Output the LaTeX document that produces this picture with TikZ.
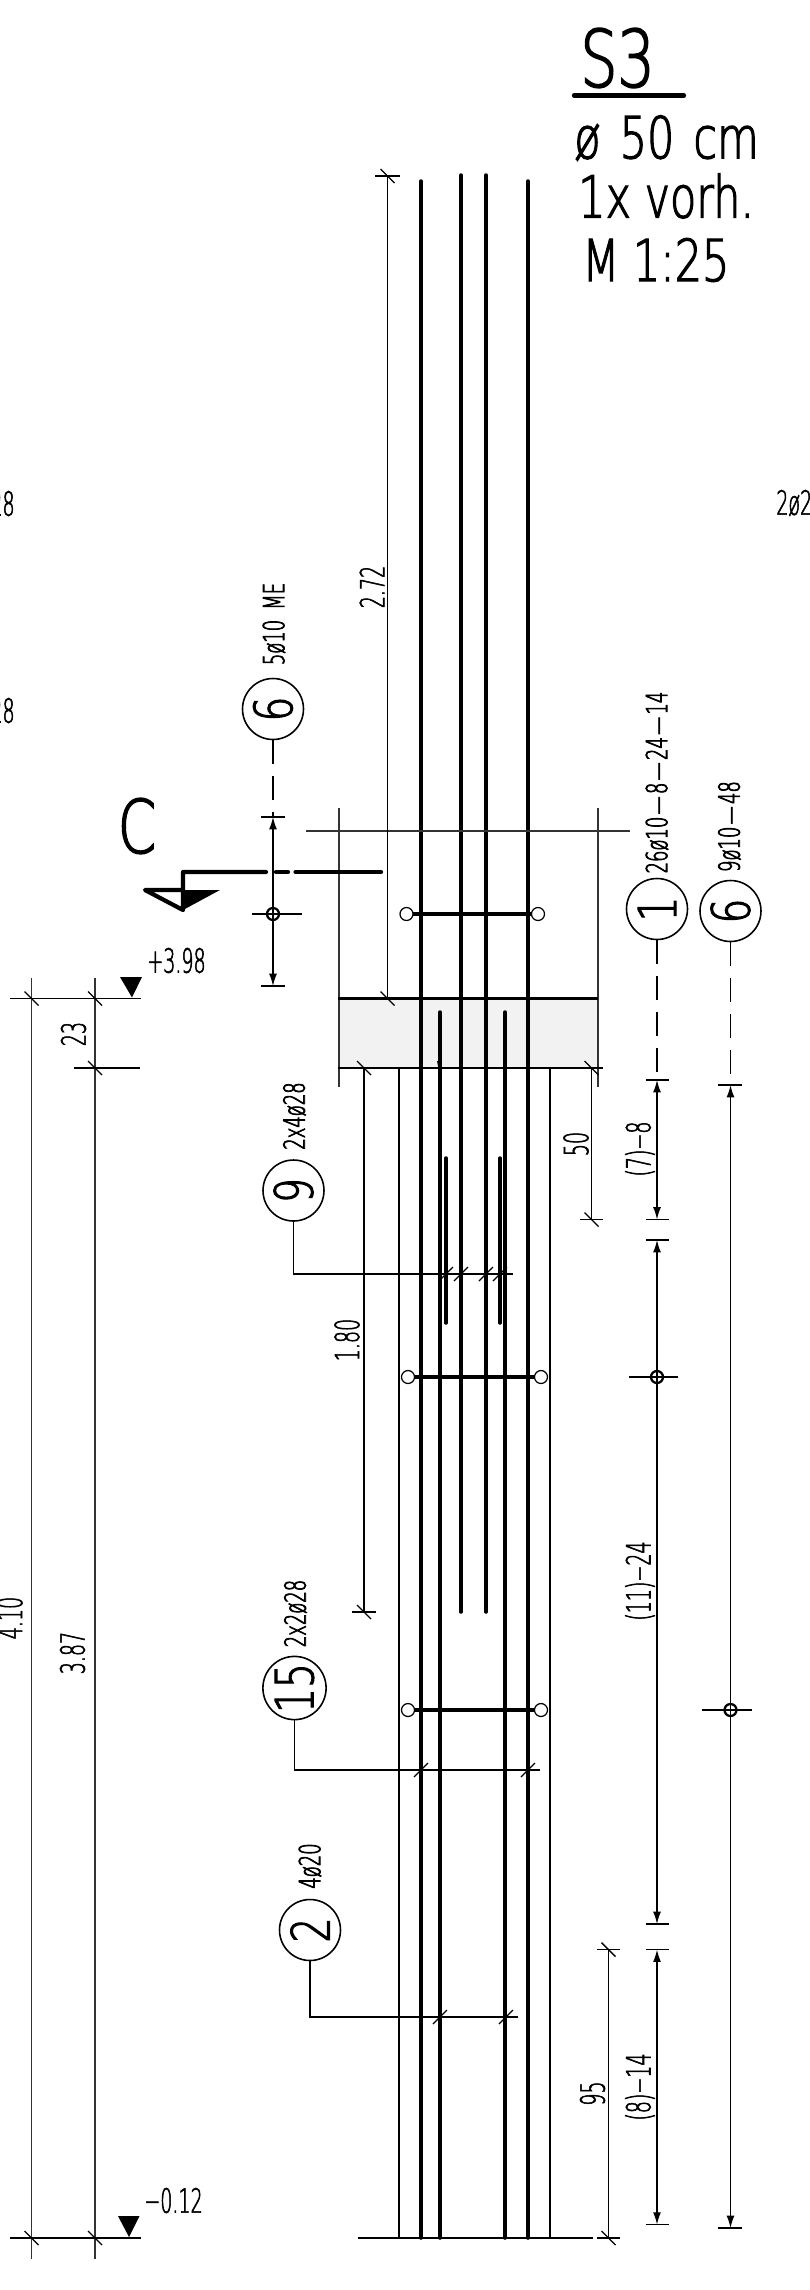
\documentclass[tikz,border=0pt]{standalone}
\usepackage{fontspec}
\newfontfamily\titlefont[FakeStretch=0.74,FakeBold=2]{DejaVu Sans ExtraLight}
\newfontfamily\dimfont[FakeStretch=0.57,FakeBold=1.6]{DejaVu Sans ExtraLight}
\newfontfamily\barfont[FakeStretch=0.62,FakeBold=2.4]{DejaVu Sans ExtraLight}
\usetikzlibrary{arrows.meta}
\tikzset{
  dimline/.style={line width=0.75pt},
  extline/.style={line width=0.6pt,black!80},
  barthick/.style={line width=2pt,line cap=round},
  barouter/.style={line width=1.4pt},
  leader/.style={line width=0.8pt},
  tickmark/.style={line width=0.75pt},
  dimarrow/.style={line width=0.75pt,{Latex[length=7pt,width=4.5pt]}-{Latex[length=7pt,width=4.5pt]}},
  dimtext/.style={inner sep=0pt,rotate=90,font=\dimfont\fontsize{19}{19}\selectfont},
  bartext/.style={inner sep=0pt,rotate=90,font=\barfont\fontsize{16.5}{16.5}\selectfont},
  titletext/.style={inner sep=0pt,anchor=west,font=\titlefont\fontsize{#1}{#1}\selectfont},
  neighbour/.style={inner sep=0pt,font=\dimfont\fontsize{19}{19}\selectfont},
  poscircle/.style={circle,draw,line width=0.9pt,minimum size=1.22cm,inner sep=0pt,font=\titlefont\fontsize{30}{30}\selectfont},
  dashlead/.style={line width=0.75pt,dash pattern=on 13.6pt off 6.8pt}
}
\begin{document}
\begin{tikzpicture}[x=0.02cm,y=-0.02cm]
    \useasboundingbox (0,0) rectangle (810,2290);
    % concrete band
    \fill[black!5] (339,998.5) rectangle (598,1068);
    % title
    \node[titletext=45] (title) at (580,58) {S3};
    \draw[line width=2.4pt,line cap=round] (574,95.5) -- (684,95.5);
    \node[titletext=33] (diam) at (574,138) {ø\hspace{0.33em}50\hspace{0.33em}cm};
    \node[titletext=33] (count) at (578,196) {1x vorh.};
    \node[titletext=33] (scale) at (582,260) {M 1:25};
    % cut off neighbours
    \node[neighbour,anchor=east] (nba) at (15,504) {2ø28};
    \node[neighbour,anchor=east] (nbb) at (15,711) {2ø28};
    \node[neighbour,anchor=west] (nbc) at (776,503) {2ø28};
    % bars
    \foreach \x/\a/\b in {421/181/2238,528/181/2238,461/175/1612,486/175/1612,440/1012/2238,505/1012/2238,446/1158/1323,500/1158/1323}
      \draw[barthick] (\x,\a) -- (\x,\b);
    \foreach \x in {399,550}
      \draw[barouter] (\x,1068) -- (\x,2238);
    \draw[line width=1.1pt] (438,1061) -- (441,1076);
    % stirrups
    \foreach \a/\b/\y in {406.5/538/914,408/541/1377,408/541/1710} {
      \draw[barthick] (\a,\y) -- (\b,\y);
      \draw[line width=0.7pt,fill=white] (\a,\y) circle (6.5);
      \draw[line width=0.7pt,fill=white] (\b,\y) circle (6.5);
    }
    % band and footing edges
    \draw[extline] (339,808) -- (339,1087);
    \draw[extline] (598,808) -- (598,1087);
    \draw[extline] (306,831) -- (630,831);
    \draw[barouter] (338,998.5) -- (598,998.5);
    \draw[barouter] (338,1068) -- (603,1068);
    \draw[barouter] (357.5,2238) -- (592.5,2238);
    % section mark
    \node[inner sep=0pt,font=\titlefont\fontsize{42}{42}\selectfont] (cut) at (137,826) {C};
    \draw[line width=2.4pt,line cap=round,line join=round] (266,872) -- (183,872) -- (183,910) -- (145,890) -- (183,890);
    \draw[line width=2.4pt,line cap=round] (276,872) -- (288,872);
    \draw[line width=2.4pt,line cap=round] (295.5,872) -- (381,872);
    \fill (183,890) -- (220,890) -- (183,910) -- cycle;
    % dimension lines
    \draw[dimline] (387.5,176) -- (387.5,998.5);
    \draw[dimline] (364,1068) -- (364,1612);
    \draw[dimline] (591.5,1068) -- (591.5,1219.5);
    \draw[dimline] (608.5,1949.6) -- (608.5,2238);
    \draw[extline] (31.5,978) -- (31.5,2259);
    \draw[extline] (95,978) -- (95,2259);
    \draw[dimline] (10,998.5) -- (141,998.5);
    \draw[dimline] (74,1068) -- (140,1068);
    \draw[dimline] (10,2238) -- (141,2238);
    \draw[dimline] (375,176) -- (400,176);
    \draw[dimline] (352,1612) -- (376,1612);
    \draw[dimline] (580,1219.5) -- (603,1219.5);
    \draw[dimline] (597,1949.6) -- (620,1949.6);
    \draw[dimline] (597,2238) -- (620,2238);
    % ticks, falling
    \foreach \x/\y in {31.5/998.5,95/998.5,95/1068,31.5/2238,95/2238,387.5/176,387.5/998.5,364/1068,591.5/1068,364/1612,591.5/1219.5,608.5/1949.6,608.5/2238}
      \draw[tickmark] (\x,\y) ++(-7,-7) -- ++(14,14);
    % ticks, rising
    \foreach \x/\y in {446/1274,461/1274,486/1274,500/1274,421/1770,528/1770,440/2017,506/2017}
      \draw[tickmark] (\x,\y) ++(-7,7) -- ++(14,-14);
    % levels
    \fill (120,977) -- (142,977) -- (132,997.5) -- cycle;
    \fill (118,2216) -- (139.5,2216) -- (129,2237) -- cycle;
    \node[inner sep=0pt,anchor=west,font=\dimfont\fontsize{19}{19}\selectfont] (levtop) at (147,960.5) {+3.98};
    \node[inner sep=0pt,anchor=west,font=\dimfont\fontsize{19}{19}\selectfont] (levbot) at (144,2200.5) {−0.12};
    % dimension texts
    \node[dimtext] (dima) at (372,587) {2.72};
    \node[dimtext] (dimb) at (347,1340) {1.80};
    \node[dimtext] (dimc) at (576,1144) {50};
    \node[dimtext] (dimd) at (592.5,2093.5) {95};
    \node[dimtext] (dime) at (73.5,1034) {23};
    \node[dimtext] (dimf) at (72.5,1653) {3.87};
    \node[dimtext] (dimg) at (10,1618) {4.10};
    % position circles
    \node[poscircle] (posa) at (273,709) {\rotatebox{90}{6}};
    \node[poscircle] (posb) at (657,909) {\rotatebox{90}{1}};
    \node[poscircle] (posc) at (730.5,911) {\rotatebox{90}{6}};
    \node[poscircle] (posd) at (293.5,1190.5) {\rotatebox{90}{9}};
    \node[poscircle] (pose) at (294.5,1688) {\rotatebox{90}{15}};
    \node[poscircle] (posf) at (310,1930) {\rotatebox{90}{2}};
    % position texts
    \node[bartext] (bara) at (274,624) {5ø10\hspace{0.15em} ME};
    \node[bartext] (barb) at (657,782.5) {26ø10\hspace{0.08em}—\hspace{0.08em}8\hspace{0.08em}—\hspace{0.08em}24\hspace{0.08em}—\hspace{0.08em}14};
    \node[bartext] (barc) at (729.5,826.5) {9ø10\hspace{0.08em}—\hspace{0.08em}48};
    \node[bartext] (bard) at (294.5,1116) {2x4ø28};
    \node[bartext] (bare) at (295.5,1613.5) {2x2ø28};
    \node[bartext] (barf) at (310,1866) {4ø20};
    % leaders
    \coordinate (posdend) at (512.5,1274);
    \coordinate (poseend) at (540,1770);
    \coordinate (posfend) at (517.5,2017);
    \draw[leader] (posd.south) |- (posdend);
    \draw[leader] (pose.south) |- (poseend);
    \draw[leader] (posf.south) |- (posfend);
    % spacing chain below circle 6, left
    \coordinate (lefttop) at (273,817);
    \coordinate (leftmid) at (273,914);
    \coordinate (leftbot) at (273,986);
    \draw[dashlead] (posa.south) -- (lefttop);
    \draw[dimarrow] (lefttop) -- (leftbot);
    \draw[dimline] (261,817) -- (285,817);
    \draw[dimline] (261,986) -- (285,986);
    \draw[dimline] (252,914) -- (302,914);
    \draw[line width=1.3pt] (leftmid) circle (6);
    % spacing chain below circle 1
    \coordinate (chaina) at (657,1080);
    \coordinate (chainb) at (657,1219.5);
    \coordinate (chainc) at (657,1240);
    \coordinate (chaind) at (657,1924);
    \coordinate (chaine) at (657,1949.6);
    \coordinate (chainf) at (657,2224.6);
    \draw[dashlead] (posb.south) -- (chaina);
    \draw[dimarrow] (chaina) -- (chainb);
    \draw[dimarrow] (chainc) -- (chaind);
    \draw[dimarrow] (chaine) -- (chainf);
    \foreach \y in {1080,1219.5,1240,1924,1949.6,2224.6}
      \draw[dimline] (646,\y) -- (669,\y);
    \draw[dimline] (629,1377) -- (678,1377);
    \draw[line width=1.3pt] (657,1377) circle (6);
    % spacing chain below circle 6, right
    \coordinate (chaing) at (730.5,1085);
    \coordinate (chainh) at (730.5,2228);
    \draw[dashlead] (posc.south) -- (chaing);
    \draw[dimarrow] (chaing) -- (chainh);
    \draw[dimline] (718,1085) -- (742,1085);
    \draw[dimline] (718,2228) -- (742,2228);
    \draw[dimline] (701.5,1710) -- (752,1710);
    \draw[line width=1.3pt] (730.5,1710) circle (6);
    % spacing texts
    \node[dimtext] (spa) at (640,1149) {(7)−8};
    \node[dimtext] (spb) at (640,1581) {(11)−24};
    \node[dimtext] (spc) at (640,2087) {(8)−14};
  \end{tikzpicture}
\end{document}
